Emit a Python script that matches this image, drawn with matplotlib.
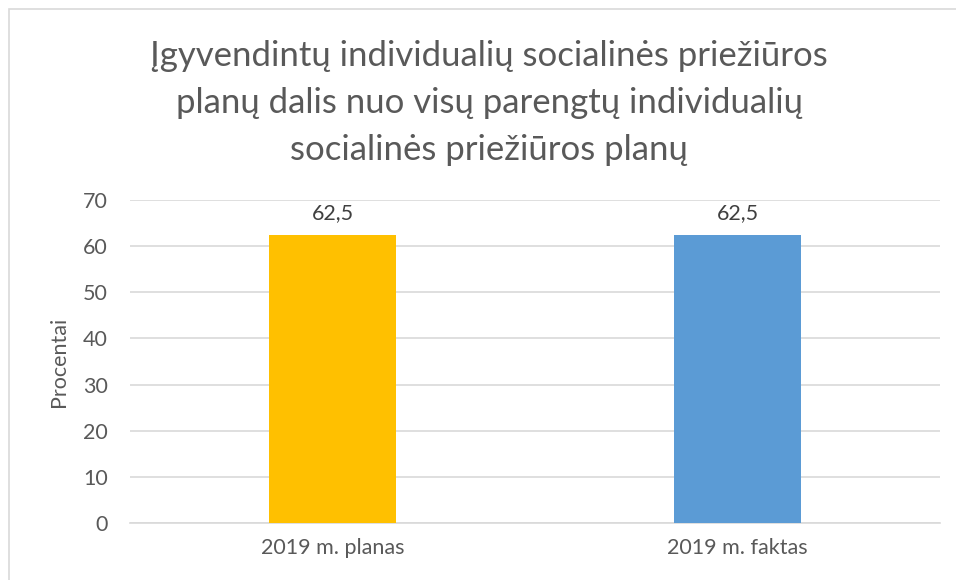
import matplotlib.pyplot as plt
from matplotlib.patches import Rectangle

categories = ['2019 m. planas', '2019 m. faktas']
values = [62.5, 62.5]
colors = ['#FFC000', '#5B9BD5']
value_labels = ['62,5', '62,5']
yticks = [0, 10, 20, 30, 40, 50, 60, 70]
title = ('Įgyvendintų individualių socialinės priežiūros\n'
         'planų dalis nuo visų parengtų individualių\n'
         'socialinės priežiūros planų')

plt.rcParams['font.family'] = ['Lato', 'DejaVu Sans']
text_color = '#595959'

fig = plt.figure(figsize=(9.56, 5.8), dpi=100)
# chart frame
fig.patches.append(Rectangle((9 / 956, -0.05), 1.0, 0.05 + (580 - 9) / 580,
                             transform=fig.transFigure, fill=False,
                             edgecolor='#d9d9d9', linewidth=1.2))

ax = fig.add_axes([130 / 956, 57 / 580, 810 / 956, 323 / 580])
x = range(len(categories))
ax.bar(x, values, width=0.316, color=colors, zorder=3)
for i, v in enumerate(values):
    ax.text(i, v + 2.5, value_labels[i], ha='center', va='bottom',
            fontsize=15.5, color='#404040')

ax.set_xlim(-0.5, 1.5)
ax.set_ylim(0, 70)
ax.set_yticks(yticks)
ax.set_xticks(list(x))
ax.set_xticklabels(categories)
ax.tick_params(axis='both', length=0, labelsize=15.5, colors=text_color)
ax.tick_params(axis='y', pad=16)
ax.tick_params(axis='x', pad=11)
ax.grid(axis='y', color='#d9d9d9', linewidth=1.2, zorder=0)
for s in ['top', 'right', 'left']:
    ax.spines[s].set_visible(False)
ax.spines['bottom'].set_color('#d9d9d9')
ax.spines['bottom'].set_linewidth(1.2)
ax.set_ylabel('Procentai', fontsize=15.5, color=text_color, labelpad=10)

fig.text(489 / 956, 1 - 103 / 580, title, ha='center', va='center',
         fontsize=25, color=text_color, linespacing=1.59)

fig.savefig('out.png', dpi=100)
